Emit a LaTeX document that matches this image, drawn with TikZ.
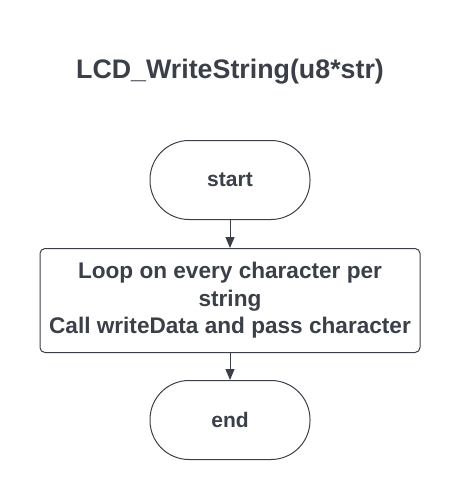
\documentclass[tikz,border=0pt]{standalone}
\usepackage{fontspec}
\setmainfont{Liberation Sans}
\usetikzlibrary{positioning,arrows.meta}
\definecolor{inkgray}{HTML}{3A3F48}
\tikzset{
	terminal/.style={draw=inkgray, line width=1pt, minimum width=160pt, minimum height=79pt, rounded corners=39pt, text=inkgray, font=\bfseries\fontsize{21}{26}\selectfont},
	process/.style={draw=inkgray, line width=1pt, minimum width=380pt, minimum height=104pt, rounded corners=5pt, align=center, text=inkgray, font=\bfseries\fontsize{22.6}{27.5}\selectfont},
	flow/.style={draw=inkgray, line width=1pt, -{Triangle[length=11pt, width=9pt]}}
	}

\begin{document}
\begin{tikzpicture}[x=1pt, y=1pt]

	% page frame
	\useasboundingbox (0,0) rectangle (460,-500);

	% title
	\node[text=inkgray, font=\bfseries\fontsize{26.8}{30}\selectfont] (title) at (230,-72) {LCD\_WriteString(u8*str)};

	% blocks
	\node[terminal] (start) at (230,-180) {start};
	\node[process, below=28pt of start] (loop) {Loop on every character per\\string\\Call writeData and pass character};
	\node[terminal, below=27pt of loop] (end) {end};

	% arrows
	\draw[flow] (start) -- (loop);
	\draw[flow] (loop) -- (end);

\end{tikzpicture}
\end{document}
